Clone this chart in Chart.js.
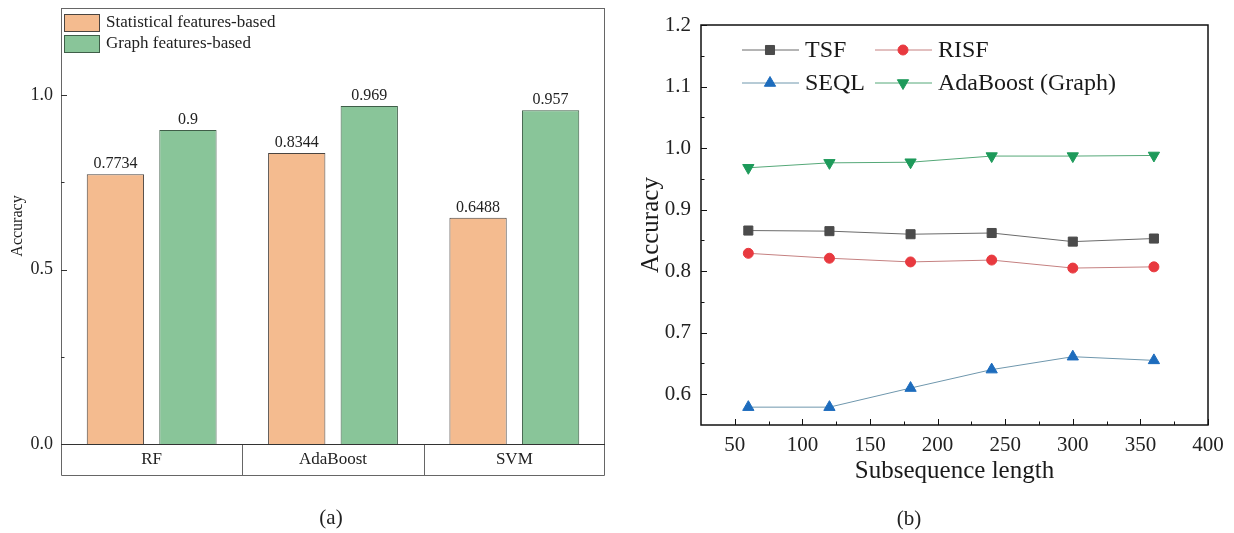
<!DOCTYPE html>
<html>
<head>
<meta charset="utf-8">
<script src="https://cdn.jsdelivr.net/npm/chart.js@4"></script>
<style>
body { margin: 0; background: #fff; width: 1234px; height: 533px; overflow: hidden; position: relative; font-family: "Liberation Serif", serif; }
#wrapA { position: absolute; left: 0; top: 0; width: 620px; height: 533px; }
#wrapB { position: absolute; left: 620px; top: 0; width: 614px; height: 533px; }
.cap { position: absolute; font-size: 21px; color: #222; transform: translate(-50%, -50%); }
</style>
</head>
<body>
<div id="wrapA"><canvas id="chartA"></canvas></div>
<div id="wrapB"><canvas id="chartB"></canvas></div>
<div class="cap" style="left:331px;top:517px">(a)</div>
<div class="cap" style="left:909px;top:518px">(b)</div>
<script>
//Data (a)
const models = ['RF', 'AdaBoost', 'SVM'];
const statAcc = [0.7734, 0.8344, 0.6488];
const graphAcc = [0.9, 0.969, 0.957];
const statText = ['0.7734', '0.8344', '0.6488'];
const graphText = ['0.9', '0.969', '0.957'];
const barTicks = [0, 0.5, 1.0];

//Data (b)
const subLen = [60, 120, 180, 240, 300, 360];
const tsf = [0.866, 0.865, 0.860, 0.862, 0.848, 0.853];
const risf = [0.829, 0.821, 0.815, 0.818, 0.805, 0.807];
const seql = [0.579, 0.579, 0.610, 0.640, 0.661, 0.655];
const adaGraph = [0.968, 0.976, 0.977, 0.987, 0.987, 0.988];
const lenTicks = [50, 100, 150, 200, 250, 300, 350, 400];
const accTicks = [0.6, 0.7, 0.8, 0.9, 1.0, 1.1, 1.2];

const serif = '"Liberation Serif", "Times New Roman", serif';

//Helpers
function midpoints(arr) {
    const out = [];
    for (let i = 1; i < arr.length; i++) out.push((arr[i - 1] + arr[i]) / 2);
    return out;
}

function inwardTicks(ctx, a, scale, majors, minors, horizontal) {
    const draw = (v, len) => {
        const p = Math.round(scale.getPixelForValue(v)) + 0.5;
        ctx.beginPath();
        if (horizontal) { ctx.moveTo(p, a.bottom); ctx.lineTo(p, a.bottom - len); }
        else { ctx.moveTo(a.left, p); ctx.lineTo(a.left + len, p); }
        ctx.stroke();
    };
    majors.forEach(v => draw(v, 6));
    minors.forEach(v => draw(v, 3.5));
}

function marker(ctx, style, x, y, r, rot, color) {
    ctx.fillStyle = color;
    if (Chart.helpers && Chart.helpers.drawPoint) {
        ctx.strokeStyle = color;
        ctx.lineWidth = 1;
        Chart.helpers.drawPoint(ctx, { pointStyle: style, radius: r, rotation: rot, borderWidth: 1 }, x, y);
        return;
    }
    ctx.beginPath();
    ctx.arc(x, y, r, 0, Math.PI * 2);
    ctx.fill();
}

//Plugins
const barFrame = {
    id: 'barFrame',
    afterDraw(chart) {
        const { ctx, chartArea: a, scales: { x, y } } = chart;
        ctx.save();
        ctx.strokeStyle = '#666';
        ctx.lineWidth = 1;
        ctx.strokeRect(a.left + 0.5, a.top + 0.5, a.right - a.left - 1, a.bottom - a.top);
        // category box under the axis
        const boxBottom = a.bottom + 31;
        ctx.beginPath();
        ctx.moveTo(a.left + 0.5, a.bottom); ctx.lineTo(a.left + 0.5, boxBottom + 0.5);
        ctx.lineTo(a.right - 0.5, boxBottom + 0.5); ctx.lineTo(a.right - 0.5, a.bottom);
        for (let i = 1; i < models.length; i++) {
            const bx = Math.round((x.getPixelForValue(i - 1) + x.getPixelForValue(i)) / 2) + 0.5;
            ctx.moveTo(bx, a.bottom); ctx.lineTo(bx, boxBottom);
        }
        ctx.stroke();
        ctx.strokeStyle = '#333';
        ctx.beginPath(); ctx.moveTo(a.left, a.bottom + 0.5); ctx.lineTo(a.right, a.bottom + 0.5); ctx.stroke();
        inwardTicks(ctx, a, y, barTicks, midpoints(barTicks), false);

        ctx.fillStyle = '#222';
        ctx.font = '17px ' + serif;
        ctx.textAlign = 'center';
        ctx.textBaseline = 'middle';
        models.forEach((m, i) => ctx.fillText(m, x.getPixelForValue(i), a.bottom + 16));

        // value labels
        ctx.font = '16px ' + serif;
        ctx.textBaseline = 'bottom';
        chart.data.datasets.forEach((ds, di) => {
            chart.getDatasetMeta(di).data.forEach((el, i) => {
                ctx.fillText(ds.valueText[i], el.x, el.y - 2);
            });
        });

        // legend
        ctx.textAlign = 'left';
        ctx.textBaseline = 'middle';
        ctx.font = '17px ' + serif;
        chart.data.datasets.forEach((ds, di) => {
            const ly = a.top + 6 + di * 21;
            ctx.fillStyle = ds.backgroundColor;
            ctx.fillRect(a.left + 3, ly, 36, 18);
            ctx.strokeStyle = ds.borderColor;
            ctx.strokeRect(a.left + 3.5, ly + 0.5, 35, 17);
            ctx.fillStyle = '#222';
            ctx.fillText(ds.label, a.left + 45, ly + 9);
        });
        ctx.restore();
    }
};

const lineFrame = {
    id: 'lineFrame',
    afterDraw(chart) {
        const { ctx, chartArea: a, scales: { x, y } } = chart;
        ctx.save();
        ctx.strokeStyle = '#111';
        ctx.lineWidth = 1.5;
        ctx.strokeRect(a.left, a.top, a.right - a.left, a.bottom - a.top);
        ctx.lineWidth = 1;
        inwardTicks(ctx, a, x, lenTicks, midpoints(lenTicks), true);
        inwardTicks(ctx, a, y, accTicks, midpoints(accTicks), false);

        // legend, two columns
        ctx.font = '24px ' + serif;
        ctx.textAlign = 'left';
        ctx.textBaseline = 'middle';
        chart.data.datasets.forEach((ds, di) => {
            const col = di % 2, row = Math.floor(di / 2);
            const lx = a.left + 41 + col * 133;
            const ly = a.top + 25 + row * 33;
            ctx.strokeStyle = ds.borderColor;
            ctx.lineWidth = 1;
            ctx.beginPath(); ctx.moveTo(lx, ly); ctx.lineTo(lx + 57, ly); ctx.stroke();
            marker(ctx, ds.pointStyle, lx + 28, ly, ds.pointRadius, ds.pointRotation || 0, ds.pointBackgroundColor);
            ctx.fillStyle = '#1a1a1a';
            ctx.fillText(ds.label, lx + 63, ly + 1);
        });
        ctx.restore();
    }
};

//Chart (a)
new Chart(document.getElementById('chartA'), {
    type: 'bar',
    data: {
        labels: models,
        datasets: [
            { label: 'Statistical features-based', data: statAcc, valueText: statText,
              backgroundColor: '#f4bb8f', borderColor: '#4a4440', borderWidth: 1 },
            { label: 'Graph features-based', data: graphAcc, valueText: graphText,
              backgroundColor: '#89c599', borderColor: '#3f5e48', borderWidth: 1 }
        ]
    },
    options: {
        responsive: true,
        maintainAspectRatio: false,
        animation: false,
        layout: { padding: { top: 8, right: 15, left: 0, bottom: 0 } },
        datasets: { bar: { categoryPercentage: 0.8, barPercentage: 0.79 } },
        plugins: { legend: { display: false }, tooltip: { enabled: false } },
        scales: {
            x: {
                grid: { display: false, drawTicks: false },
                border: { display: false },
                ticks: { display: false },
                afterFit(s) { s.height = 89; s.paddingLeft = 0; s.paddingRight = 0; }
            },
            y: {
                min: 0, max: 1.25,
                afterBuildTicks(s) { s.ticks = barTicks.map(v => ({ value: v })); },
                grid: { display: false, drawTicks: false },
                border: { display: false },
                ticks: { color: '#222', padding: 8, font: { family: serif, size: 18 },
                         callback: v => Number(v).toFixed(1) },
                title: { display: true, text: 'Accuracy', color: '#222',
                         font: { family: serif, size: 16 }, padding: { top: 8, bottom: 0 } },
                afterFit(s) { s.width = 61; s.paddingTop = 0; s.paddingBottom = 0; }
            }
        }
    },
    plugins: [barFrame]
});

//Chart (b)
const pts = ys => subLen.map((v, i) => ({ x: v, y: ys[i] }));
new Chart(document.getElementById('chartB'), {
    type: 'line',
    data: {
        datasets: [
            { label: 'TSF', data: pts(tsf), borderColor: '#6a6a6a', borderWidth: 1,
              pointStyle: 'rect', pointRadius: 6.4, pointBackgroundColor: '#4b4b4b', pointBorderColor: '#4b4b4b' },
            { label: 'RISF', data: pts(risf), borderColor: '#c58080', borderWidth: 1,
              pointStyle: 'circle', pointRadius: 5, pointBackgroundColor: '#e8393f', pointBorderColor: '#e8393f' },
            { label: 'SEQL', data: pts(seql), borderColor: '#6f97ad', borderWidth: 1,
              pointStyle: 'triangle', pointRadius: 6.5, pointBackgroundColor: '#1d6cbd', pointBorderColor: '#1d6cbd' },
            { label: 'AdaBoost (Graph)', data: pts(adaGraph), borderColor: '#55a878', borderWidth: 1,
              pointStyle: 'triangle', pointRotation: 180, pointRadius: 6.5, pointBackgroundColor: '#1d9a5a', pointBorderColor: '#1d9a5a' }
        ]
    },
    options: {
        responsive: true,
        maintainAspectRatio: false,
        animation: false,
        layout: { padding: { top: 25, right: 26, left: 0, bottom: 43 } },
        plugins: { legend: { display: false }, tooltip: { enabled: false } },
        scales: {
            x: {
                type: 'linear', min: 25, max: 400,
                afterBuildTicks(s) { s.ticks = lenTicks.map(v => ({ value: v })); },
                grid: { display: false, drawTicks: false },
                border: { display: false },
                ticks: { color: '#222', padding: 8, maxRotation: 0, autoSkip: false,
                         font: { family: serif, size: 21 } },
                title: { display: true, text: 'Subsequence length', color: '#1a1a1a',
                         font: { family: serif, size: 25 }, padding: { top: 0, bottom: 4 } },
                afterFit(s) { s.height = 65; }
            },
            y: {
                min: 0.55, max: 1.2,
                afterBuildTicks(s) { s.ticks = accTicks.map(v => ({ value: v })); },
                grid: { display: false, drawTicks: false },
                border: { display: false },
                ticks: { color: '#222', padding: 10, font: { family: serif, size: 21 },
                         callback: v => Number(v).toFixed(1) },
                title: { display: true, text: 'Accuracy', color: '#1a1a1a',
                         font: { family: serif, size: 25 }, padding: { top: 16, bottom: 0 } },
                afterFit(s) { s.width = 81; }
            }
        }
    },
    plugins: [lineFrame]
});
</script>
</body>
</html>
